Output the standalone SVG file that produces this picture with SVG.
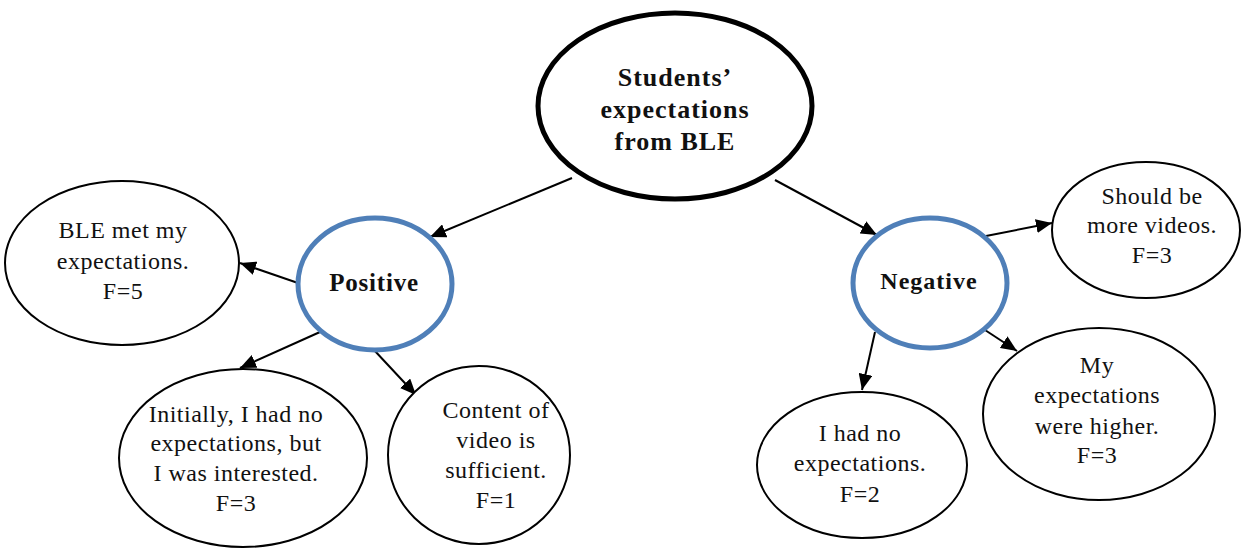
<svg xmlns="http://www.w3.org/2000/svg" width="1247" height="549" viewBox="0 0 1247 549">
<style>
.leaf{fill:#fff;stroke:#000;stroke-width:2}
.root{fill:#fff;stroke:#000;stroke-width:5}
.cat{fill:#fff;stroke:#4f7fb8;stroke-width:5}
.t{font-family:"Liberation Serif","Times New Roman",serif;font-size:24px;fill:#111;text-anchor:middle;letter-spacing:0.5px}
.b{font-family:"Liberation Serif","Times New Roman",serif;font-weight:bold;fill:#111;text-anchor:middle}
.conn line{stroke:#000;stroke-width:2;marker-end:url(#arr)}
</style>
<defs>
<marker id="arr" markerUnits="userSpaceOnUse" markerWidth="18" markerHeight="14" refX="16" refY="7" orient="auto">
<path d="M0,0 L16,7 L0,14 z" fill="#000"/>
</marker>
</defs>
<rect width="1247" height="549" fill="#fff"/>
<g class="conn">
<line x1="572" y1="178" x2="430" y2="237"/>
<line x1="775" y1="180" x2="877" y2="235"/>
<line x1="298" y1="283" x2="240" y2="263"/>
<line x1="320" y1="332" x2="240" y2="368"/>
<line x1="374" y1="350" x2="416" y2="395"/>
<line x1="986" y1="236" x2="1052" y2="223"/>
<line x1="875" y1="332" x2="862" y2="390"/>
<line x1="985" y1="330" x2="1017" y2="351"/>
</g>
<g id="root">
<ellipse class="root" cx="675" cy="106" rx="137" ry="93"/>
<text class="b" style="font-size:26px;letter-spacing:1px" x="675" y="86">Students’</text>
<text class="b" style="font-size:26px;letter-spacing:1px" x="675" y="118">expectations</text>
<text class="b" style="font-size:26px;letter-spacing:1px" x="675" y="150">from BLE</text>
</g>
<g id="positive">
<ellipse class="cat" cx="375" cy="284" rx="77" ry="66"/>
<text class="b" style="font-size:25px;letter-spacing:0.8px" x="374" y="291">Positive</text>
</g>
<g id="negative">
<ellipse class="cat" cx="930" cy="283" rx="77" ry="65"/>
<text class="b" style="font-size:24px;letter-spacing:1px" x="929" y="289">Negative</text>
</g>
<g id="met">
<ellipse class="leaf" cx="122" cy="263" rx="117" ry="82"/>
<text class="t" x="123" y="238">BLE met my</text>
<text class="t" x="123" y="269">expectations.</text>
<text class="t" x="123" y="299">F=5</text>
</g>
<g id="initially">
<ellipse class="leaf" cx="243" cy="458" rx="124" ry="89"/>
<text class="t" x="236" y="422">Initially, I had no</text>
<text class="t" x="236" y="451">expectations, but</text>
<text class="t" x="236" y="481">I was interested.</text>
<text class="t" x="236" y="511">F=3</text>
</g>
<g id="content">
<ellipse class="leaf" cx="479" cy="455" rx="91" ry="89"/>
<text class="t" x="496" y="418">Content of</text>
<text class="t" x="496" y="448">video is</text>
<text class="t" x="496" y="478">sufficient.</text>
<text class="t" x="496" y="508">F=1</text>
</g>
<g id="more">
<ellipse class="leaf" cx="1146" cy="230" rx="94" ry="68"/>
<text class="t" x="1152" y="204">Should be</text>
<text class="t" x="1152" y="233">more videos.</text>
<text class="t" x="1152" y="263">F=3</text>
</g>
<g id="noexp">
<ellipse class="leaf" cx="862" cy="465" rx="105" ry="73"/>
<text class="t" x="860" y="441">I had no</text>
<text class="t" x="860" y="471">expectations.</text>
<text class="t" x="860" y="502">F=2</text>
</g>
<g id="higher">
<ellipse class="leaf" cx="1099" cy="414" rx="116" ry="86"/>
<text class="t" x="1097" y="373">My</text>
<text class="t" x="1097" y="403">expectations</text>
<text class="t" x="1097" y="434">were higher.</text>
<text class="t" x="1097" y="463">F=3</text>
</g>
</svg>
